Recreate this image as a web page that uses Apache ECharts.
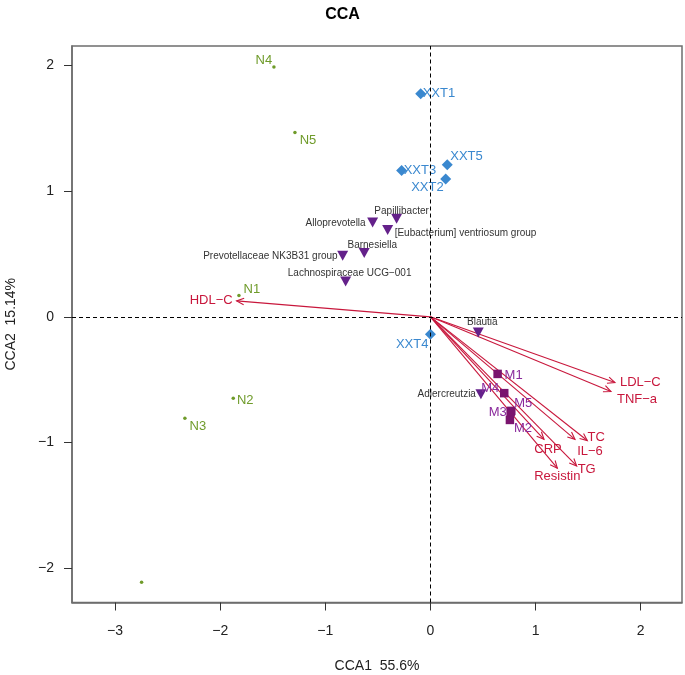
<!DOCTYPE html>
<html><head><meta charset="utf-8">
<script src="https://cdn.jsdelivr.net/npm/echarts@6/dist/echarts.min.js"></script>
<style>html,body{margin:0;padding:0;background:#fff}#c{width:685px;height:675px}</style>
</head><body><div id="c"></div>
<script>
// ---- data ----
const xTicks = [-3, -2, -1, 0, 1, 2];
const yTicks = [-2, -1, 0, 1, 2];
const nNames = ['N1', 'N2', 'N3', 'N4', 'N5', ''];
const nX = [-1.822, -1.876, -2.336, -1.489, -1.289, -2.748];
const nY = [0.170, -0.647, -0.806, 1.987, 1.467, -2.110];
const xxtNames = ['XXT1', 'XXT2', 'XXT3', 'XXT4', 'XXT5'];
const xxtX = [-0.093, 0.145, -0.274, 0.000, 0.160];
const xxtY = [1.775, 1.096, 1.164, -0.138, 1.210];
const mNames = ['M1', 'M2', 'M3', 'M4', 'M5'];
const mX = [0.639, 0.756, 0.763, 0.702, 0.769];
const mY = [-0.454, -0.820, -0.756, -0.607, -0.748];
const genusNames = ['Papillibacter', 'Alloprevotella', '[Eubacterium] ventriosum group', 'Prevotellaceae NK3B31 group', 'Barnesiella', 'Lachnospiraceae UCG\u2212001', 'Blautia', 'Adlercreutzia'];
const genusX = [-0.322, -0.550, -0.407, -0.835, -0.630, -0.807, 0.455, 0.480];
const genusY = [0.780, 0.750, 0.690, 0.485, 0.507, 0.281, -0.125, -0.615];
const envNames = ['HDL\u2212C', 'LDL\u2212C', 'TNF\u2212a', 'TC', 'IL\u22126', 'CRP', 'TG', 'Resistin'];
const envX = [-1.844, 1.755, 1.717, 1.492, 1.375, 1.080, 1.391, 1.207];
const envY = [0.127, -0.523, -0.594, -0.984, -0.974, -0.974, -1.186, -1.204];

// ---- label placement (styling) ----
const nLab = [[13,-6,'center'],[12,2,'center'],[13,8,'center'],[-10,-7,'center'],[13,8,'center'],[0,0,'center']];
const xxtLab = [[2,0,'left'],[-2,8,'right'],[2,0,'left'],[-2,10,'right'],[3,-8,'left']];
const mLab = [[16,2,'center'],[13,8,'center'],[-13,1,'center'],[-14,-5,'center'],[12,-7,'center']];
const genusLab = [[5,-8,'center'],[-7,1,'right'],[7,3,'left'],[-5,0,'right'],[8,-8,'center'],[4,-8,'center'],[4,-10,'center'],[-5,0,'right']];
const envLab = [[-4,0,'right'],[5,0,'left'],[6,8,'left'],[9,-3,'center'],[15,12,'center'],[4,10,'center'],[10,3,'center'],[0,8,'center']];

const FONT = '"Liberation Sans", Arial, Helvetica, sans-serif';
const GREEN = '#6f9b2a', BLUE = '#3a88cf', TRI = '#64218a', SQ = '#7a146e', MLAB = '#8a2a9c', RED = '#c8173c', GRAY = '#333333';

function pts(xs, ys, names, lab, color, size) {
  return xs.map((x, i) => ({
    value: [x, ys[i]],
    name: names[i],
    label: {
      show: names[i] !== '', position: 'inside', formatter: names[i],
      offset: [lab[i][0], lab[i][1]], align: lab[i][2], verticalAlign: 'middle',
      color: color, fontSize: size, fontFamily: FONT
    }
  }));
}

function arrowItem(params, api) {
  const i = params.dataIndex;
  const p0 = api.coord([0, 0]);
  const p1 = api.coord([api.value(0), api.value(1)]);
  const ang = Math.atan2(p1[1] - p0[1], p1[0] - p0[0]);
  const L = 8, a = Math.PI / 7.5;
  const h1 = [p1[0] - L * Math.cos(ang - a), p1[1] - L * Math.sin(ang - a)];
  const h2 = [p1[0] - L * Math.cos(ang + a), p1[1] - L * Math.sin(ang + a)];
  const s = envLab[i];
  return { type: 'group', children: [
    { type: 'line', shape: { x1: p0[0], y1: p0[1], x2: p1[0], y2: p1[1] }, style: { stroke: RED, lineWidth: 1.1 } },
    { type: 'polyline', shape: { points: [h1, p1, h2] }, style: { stroke: RED, fill: null, lineWidth: 1.1 } },
    { type: 'text', x: p1[0] + s[0], y: p1[1] + s[1], style: { text: envNames[i], fill: RED, font: '13px ' + FONT, align: s[2], verticalAlign: 'middle' } }
  ]};
}

const chart = echarts.init(document.getElementById('c'), null, { renderer: 'canvas' });
const fmt = v => String(v).replace('-', '\u2212');
chart.setOption({
  animation: false,
  backgroundColor: '#fff',
  title: { text: 'CCA', left: 'center', top: 2, textStyle: { fontFamily: FONT, fontWeight: 'bold', fontSize: 16, color: '#000' } },
  grid: { left: 72, right: 3, top: 46, bottom: 72.5, containLabel: false, outerBoundsMode: 'none', show: true, borderColor: '#6e6e6e', borderWidth: 1.5, backgroundColor: 'transparent' },
  xAxis: {
    type: 'value', min: -3.41, max: 2.393,
    name: 'CCA1  55.6%', nameLocation: 'middle', nameGap: 57,
    nameTextStyle: { fontFamily: FONT, fontSize: 14, color: '#222' },
    splitLine: { show: false },
    axisLine: { show: true, onZero: false, lineStyle: { color: '#6e6e6e', width: 1.5 } },
    axisTick: { show: true, length: 8, customValues: xTicks, lineStyle: { color: '#333' } },
    axisLabel: { customValues: xTicks, formatter: fmt, margin: 22, fontFamily: FONT, fontSize: 14, color: '#222' }
  },
  yAxis: {
    type: 'value', min: -2.272, max: 2.154,
    name: 'CCA2  15.14%', nameLocation: 'middle', nameGap: 54,
    nameTextStyle: { fontFamily: FONT, fontSize: 14, color: '#222' },
    splitLine: { show: false },
    axisLine: { show: true, onZero: false, lineStyle: { color: '#6e6e6e', width: 1.5 } },
    axisTick: { show: true, length: 8, customValues: yTicks, lineStyle: { color: '#333' } },
    axisLabel: { customValues: yTicks, formatter: fmt, margin: 18, fontFamily: FONT, fontSize: 14, color: '#222' }
  },
  series: [
    {
      type: 'custom', name: 'env', clip: false, z: 1,
      renderItem: arrowItem,
      data: envX.map((x, i) => [x, envY[i]]),
      markLine: {
        silent: true, symbol: 'none', animation: false,
        label: { show: false },
        lineStyle: { color: '#000', type: [4, 3], width: 1 },
        data: [{ xAxis: 0 }, { yAxis: 0 }]
      }
    },
    {
      type: 'scatter', name: 'N', symbol: 'circle', symbolSize: 3.5, z: 3,
      itemStyle: { color: GREEN, opacity: 1 },
      data: pts(nX, nY, nNames, nLab, GREEN, 13)
    },
    {
      type: 'scatter', name: 'XXT', symbol: 'diamond', symbolSize: [11, 11], z: 3,
      itemStyle: { color: BLUE, opacity: 1 },
      data: pts(xxtX, xxtY, xxtNames, xxtLab, BLUE, 13)
    },
    {
      type: 'scatter', name: 'genus', symbol: 'triangle', symbolRotate: 180, symbolSize: [11, 10], z: 3,
      itemStyle: { color: TRI, opacity: 1 },
      data: pts(genusX, genusY, genusNames, genusLab, GRAY, 10)
    },
    {
      type: 'scatter', name: 'M', symbol: 'rect', symbolSize: 8.5, z: 3,
      itemStyle: { color: SQ, opacity: 1 },
      data: pts(mX, mY, mNames, mLab, MLAB, 13)
    }
  ]
});
</script>
</body></html>
